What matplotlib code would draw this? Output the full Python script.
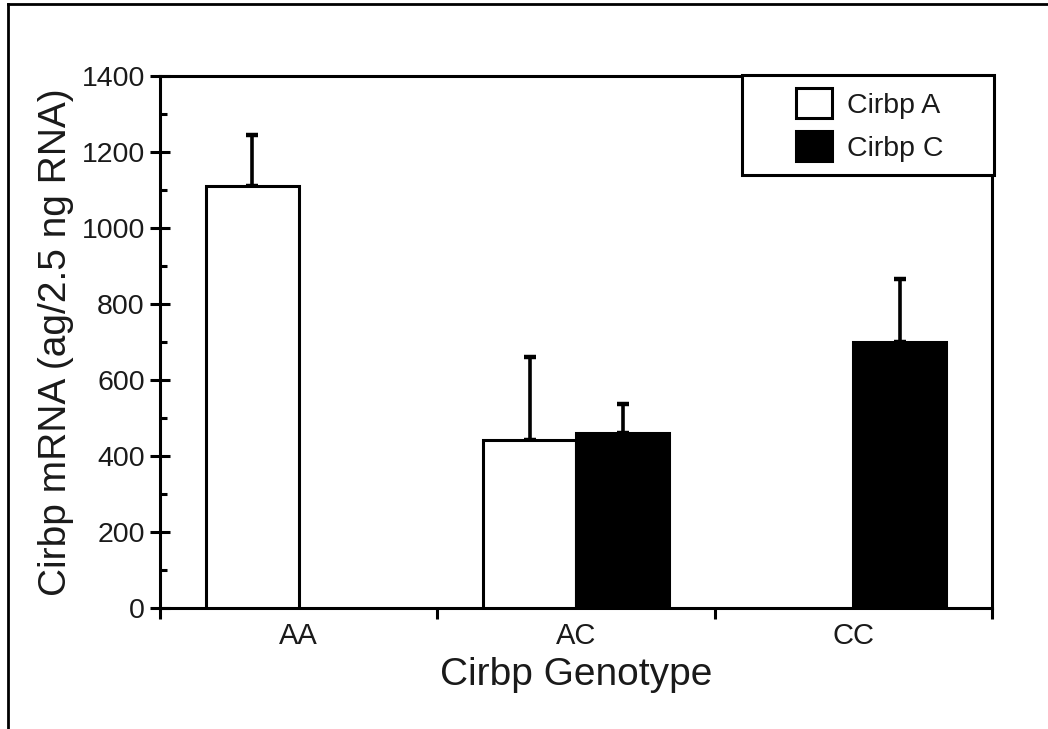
import numpy as np
import matplotlib
matplotlib.use('Agg')
import matplotlib.pyplot as plt
from matplotlib.lines import Line2D
from matplotlib.patches import Rectangle, Patch

plt.rcParams['font.family'] = ['Liberation Sans', 'DejaVu Sans']

# data (nan = allele not present)
genotypes = ['AA', 'AC', 'CC']
cirbp_a = [1110, 442, np.nan]
cirbp_a_err = [135, 218, np.nan]
cirbp_c = [np.nan, 460, 700]
cirbp_c_err = [np.nan, 77, 166]

w = 0.335
lw = 2.2
txt = '#1a1a1a'

fig = plt.figure(figsize=(10.48, 7.29), dpi=100)
ax = fig.add_axes([0.1527, 0.166, 0.794, 0.7297])

x = np.arange(len(genotypes))
for vals, errs, off, fc in [(cirbp_a, cirbp_a_err, -w/2, 'white'),
                            (cirbp_c, cirbp_c_err, w/2, 'black')]:
    v = np.array(vals, dtype=float)
    e = np.array(errs, dtype=float)
    m = ~np.isnan(v)
    ax.bar(x[m] + off, v[m], width=w, facecolor=fc, edgecolor='black',
           linewidth=lw, zorder=3)
    ax.errorbar(x[m] + off, v[m], yerr=[np.zeros(m.sum()), e[m]], fmt='none',
                ecolor='black', elinewidth=2.6, capsize=4.5, capthick=3.2, zorder=2)

ax.set_xlim(-0.5, 2.5)
ax.set_ylim(0, 1400)

# category labels at centres, tick marks on the boundaries
ax.set_xticks(x)
ax.set_xticklabels(genotypes, fontsize=21, color=txt)
ax.set_xticks([-0.5, 0.5, 1.5, 2.5], minor=True)
ax.tick_params(axis='x', which='major', length=0, pad=10)
ax.tick_params(axis='x', which='minor', direction='out', length=8, width=2.2)

ax.set_yticks(np.arange(0, 1401, 200))
ax.set_yticks(np.arange(100, 1400, 200), minor=True)
ax.tick_params(axis='y', which='major', direction='inout', length=14, width=2.2,
               labelsize=20.5, labelcolor=txt, pad=4)
ax.tick_params(axis='y', which='minor', direction='in', length=5, width=2.2)

for s in ax.spines.values():
    s.set_linewidth(lw)

ax.set_xlabel('Cirbp Genotype', fontsize=28, color=txt, labelpad=5)
ax.set_ylabel('Cirbp mRNA (ag/2.5 ng RNA)', fontsize=28, color=txt, labelpad=5)

# legend box sitting over the top-right corner
ax.add_patch(Rectangle((0.6995, 0.814), 0.303, 0.188, transform=ax.transAxes,
                       facecolor='white', edgecolor='black', linewidth=lw,
                       clip_on=False, zorder=4))
handles = [Patch(facecolor='white', edgecolor='black', linewidth=lw, label='Cirbp A'),
           Patch(facecolor='black', edgecolor='black', linewidth=lw, label='Cirbp C')]
leg = ax.legend(handles=handles, loc='center', bbox_to_anchor=(0.853, 0.908),
                frameon=False, fontsize=20.5, handlelength=1.25, handleheight=1.2,
                handletextpad=0.55, labelspacing=0.45, borderpad=0)
leg.set_zorder(5)
for t in leg.get_texts():
    t.set_color(txt)

# outer frame lines (top and left only, as in the crop)
fig.add_artist(Line2D([8/1048, 1], [1 - 4/729, 1 - 4/729], color='black', linewidth=2))
fig.add_artist(Line2D([8/1048, 8/1048], [0, 1 - 4/729], color='black', linewidth=2))

fig.savefig('out.png', dpi=100)
